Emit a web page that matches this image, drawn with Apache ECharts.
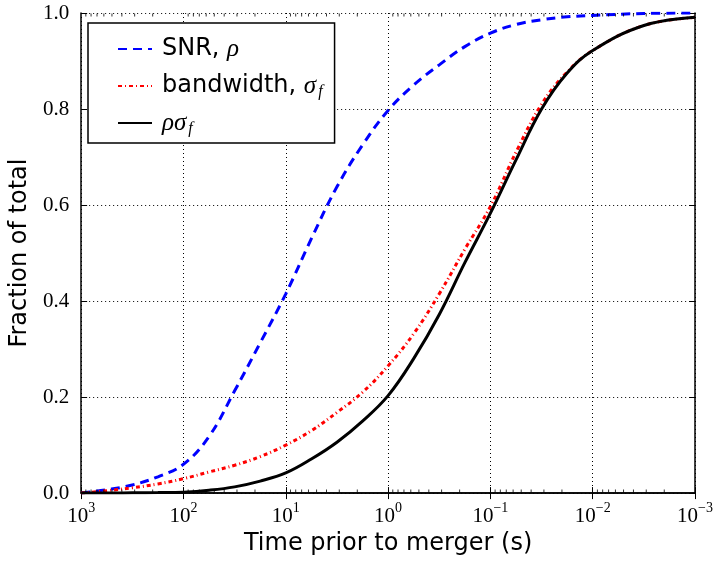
<!DOCTYPE html>
<html><head><meta charset="utf-8">
<script src="https://cdn.jsdelivr.net/npm/echarts@6/dist/echarts.min.js"></script>
<style>html,body{margin:0;padding:0;background:#fff}#c{width:716px;height:561px}</style>
</head><body><div id="c"></div>
<script>
// time prior to merger (s), quarter-decade samples from 10^3 down to 10^-3
const times = [1000, 562.3, 316.2, 177.8, 100, 56.23, 31.62, 17.78, 10, 5.623, 3.162, 1.778, 1,
  0.5623, 0.3162, 0.1778, 0.1, 0.05623, 0.03162, 0.01778, 0.01, 0.003162, 0.001];
const snr = [0.0, 0.007, 0.017, 0.034, 0.06, 0.118, 0.213, 0.313, 0.415, 0.53, 0.638, 0.725, 0.797,
  0.85, 0.892, 0.93, 0.958, 0.976, 0.986, 0.992, 0.995, 0.999, 1.0];
const bandwidth = [0.0, 0.005, 0.011, 0.019, 0.030, 0.044, 0.058, 0.076, 0.10, 0.13, 0.168, 0.21, 0.265,
  0.332, 0.415, 0.508, 0.597, 0.71, 0.81, 0.877, 0.922, 0.974, 0.991];
const product = [0.0, 0.0, 0.0005, 0.001, 0.002, 0.006, 0.013, 0.025, 0.042, 0.071, 0.106, 0.15, 0.203,
  0.28, 0.372, 0.48, 0.583, 0.694, 0.80, 0.875, 0.922, 0.974, 0.991];
const seriesNames = ['SNR', 'bandwidth', 'product'];
const minorTicks = [0.002,0.003,0.004,0.005,0.006,0.007,0.008,0.009,
  0.02,0.03,0.04,0.05,0.06,0.07,0.08,0.09,
  0.2,0.3,0.4,0.5,0.6,0.7,0.8,0.9,
  2,3,4,5,6,7,8,9,
  20,30,40,50,60,70,80,90,
  200,300,400,500,600,700,800,900];

const pair = (ys) => times.map((t, i) => [t, ys[i]]);
const serif = 'Liberation Serif';
const sans = 'DejaVu Sans';

const chart = echarts.init(document.getElementById('c'), null, {renderer: 'canvas'});

const xCommon = {
  type: 'log', logBase: 10, min: 0.001, max: 1000, inverse: true, splitNumber: 6,
  axisLine: {show: true, lineStyle: {color: '#000', width: 1.5}},
  axisTick: {show: true, inside: true, length: 6, lineStyle: {color: '#000', width: 1}}
};
const yCommon = {
  type: 'value', min: 0, max: 1, interval: 0.2,
  axisLine: {show: true, lineStyle: {color: '#000', width: 1.5}},
  axisTick: {show: true, inside: true, length: 6, lineStyle: {color: '#000', width: 1}}
};

const richLegend = {
  m: {fontFamily: serif, fontStyle: 'italic', fontSize: 25, color: '#000', lineHeight: 28},
  s: {fontFamily: serif, fontStyle: 'italic', fontSize: 16, color: '#000', verticalAlign: 'bottom', lineHeight: 14, padding: [14, 0, 0, 2]}
};
const legendLabels = {
  SNR: 'SNR, {m|ρ}',
  bandwidth: 'bandwidth, {m|σ}{s|f}',
  product: '{m|ρσ}{s|f}'
};

chart.setOption({
  animation: false,
  backgroundColor: '#fff',
  grid: {left: 78, right: 19, top: 13, bottom: 67},
  xAxis: [
    Object.assign({}, xCommon, {
      position: 'bottom',
      name: 'Time prior to merger (s)', nameLocation: 'middle', nameGap: 30,
      nameTextStyle: {fontFamily: sans, fontSize: 24, color: '#000'},
      splitLine: {show: true, lineStyle: {color: '#000', type: [1, 3], width: 1}},
      axisLabel: {
        margin: 8,
        formatter: (v) => {
          const e = Math.round(Math.log10(v));
          return '{b|10}{p|' + (e < 0 ? '−' + (-e) : e) + '}';
        },
        rich: {
          b: {fontFamily: serif, fontSize: 21, color: '#000', lineHeight: 26, verticalAlign: 'bottom'},
          p: {fontFamily: serif, fontSize: 14, color: '#000', lineHeight: 14, verticalAlign: 'top'}
        }
      }
    }),
    Object.assign({}, xCommon, {
      position: 'top', axisLabel: {show: false}, splitLine: {show: false}
    })
  ],
  yAxis: [
    Object.assign({}, yCommon, {
      position: 'left',
      name: 'Fraction of total', nameLocation: 'middle', nameGap: 42,
      nameTextStyle: {fontFamily: sans, fontSize: 24, color: '#000'},
      splitLine: {show: true, lineStyle: {color: '#000', type: [1, 3], width: 1}},
      axisLabel: {margin: 12, fontFamily: serif, fontSize: 21, color: '#000',
        formatter: (v) => v.toFixed(1)}
    }),
    Object.assign({}, yCommon, {
      position: 'right', axisLabel: {show: false}, splitLine: {show: false}
    })
  ],
  legend: {
    orient: 'vertical', left: 88, top: 23,
    backgroundColor: '#fff', borderColor: '#000', borderWidth: 1.5, borderRadius: 0,
    padding: [12, 12, 6, 29], itemWidth: 34, itemHeight: 14, itemGap: 7,
    itemStyle: {opacity: 0},
    data: seriesNames,
    formatter: (n) => legendLabels[n],
    textStyle: {fontFamily: sans, fontSize: 24, color: '#000', lineHeight: 28, padding: [0, 0, 0, 5], rich: richLegend}
  },
  series: [
    {name: 'SNR', type: 'line', data: pair(snr), smooth: 0.4, symbol: 'none', z: 3,
      lineStyle: {color: '#0000ff', width: 3, type: [9, 6]}, itemStyle: {color: '#0000ff'}},
    {name: 'bandwidth', type: 'line', data: pair(bandwidth), smooth: 0.4, symbol: 'none', z: 3,
      lineStyle: {color: '#ff0000', width: 3, type: [4, 3, 1, 3]}, itemStyle: {color: '#ff0000'}},
    {name: 'product', type: 'line', data: pair(product), smooth: 0.4, symbol: 'none', z: 4,
      lineStyle: {color: '#000000', width: 3, type: 'solid'}, itemStyle: {color: '#000'}},
    {name: 'minorBottom', type: 'scatter', silent: true, clip: false, z: 5,
      data: minorTicks.map(v => [v, 0]), symbol: 'rect', symbolSize: [1, 3], symbolOffset: [0, -2],
      itemStyle: {color: '#000'}},
    {name: 'minorTop', type: 'scatter', silent: true, clip: false, z: 5,
      data: minorTicks.map(v => [v, 1]), symbol: 'rect', symbolSize: [1, 3], symbolOffset: [0, 2],
      itemStyle: {color: '#000'}}
  ]
});
</script></body></html>
